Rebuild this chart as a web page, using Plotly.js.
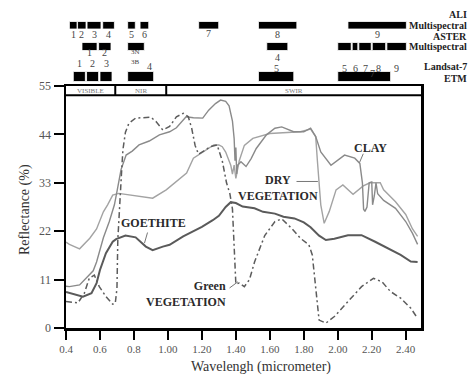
<!DOCTYPE html>
<html><head><meta charset="utf-8">
<script src="https://cdn.plot.ly/plotly-3.0.1.min.js"></script>
<style>html,body{margin:0;padding:0;background:#fff}#c{width:474px;height:376px}</style>
</head><body><div id="c"></div>
<script>
// ---- spectra (wavelength in micrometer, reflectance in %) ----
const greenW = [0.40,0.43,0.47,0.508,0.537,0.567,0.596,0.636,0.675,0.69,0.70,0.705,0.715,0.725,0.735,0.75,0.77,0.81,0.90,0.93,0.97,1.01,1.05,1.09,1.12,1.14,1.16,1.18,1.21,1.25,1.29,1.32,1.345,1.365,1.38,1.39,1.40,1.42,1.45,1.48,1.51,1.57,1.63,1.67,1.73,1.78,1.83,1.85,1.87,1.89,1.93,1.98,2.06,2.14,2.21,2.26,2.31,2.37,2.43,2.47];
const greenR = [6.0,5.8,5.7,7.9,11.3,12.0,9.4,7.1,5.4,5.6,9,20,28,34,40.5,44.5,46.5,47.7,47.9,46.9,45.0,45.8,48.0,48.8,48.0,45.4,41.5,39.5,40.2,41.2,41.6,38.0,33.0,30.5,27.0,18.0,10.0,10.2,9.4,11.0,15.0,21.0,24.2,24.8,22.6,20.4,18.9,16.6,9.0,1.8,1.1,2.6,6.0,9.4,11.3,10.5,8.3,6.8,4.5,2.2];

const clayW = [0.40,0.42,0.48,0.53,0.56,0.58,0.60,0.62,0.655,0.685,0.70,0.724,0.754,0.79,0.83,0.89,0.95,1.01,1.05,1.107,1.15,1.205,1.24,1.28,1.31,1.34,1.36,1.38,1.39,1.395,1.40,1.405,1.41,1.43,1.46,1.49,1.52,1.58,1.63,1.67,1.74,1.80,1.84,1.87,1.90,1.96,2.04,2.10,2.13,2.145,2.152,2.16,2.172,2.185,2.20,2.205,2.215,2.225,2.235,2.27,2.34,2.40,2.44,2.47];
const clayR = [9.5,9.4,9.8,11.7,13.0,15.0,18.0,20.5,24.2,28.0,31.0,36.0,39.3,40.2,41.6,42.5,43.9,44.6,45.5,48.0,47.8,47.7,49.5,51.0,51.8,51.5,50.5,47.0,43.0,38.0,41.0,35.0,37.0,37.8,36.7,38.5,40.8,43.9,45.4,45.7,44.6,44.6,45.4,43.5,40.0,37.0,39.3,38.6,37.4,33.0,27.0,26.5,27.5,33.0,33.2,28.0,30.0,33.0,30.5,29.0,27.2,24.2,21.5,19.0];

const dryW = [0.40,0.42,0.48,0.54,0.58,0.62,0.645,0.675,0.71,0.79,0.91,0.99,1.05,1.11,1.15,1.205,1.24,1.27,1.30,1.32,1.34,1.37,1.38,1.39,1.40,1.41,1.42,1.45,1.50,1.60,1.70,1.78,1.84,1.87,1.88,1.90,1.92,1.95,1.99,2.03,2.09,2.15,2.19,2.25,2.27,2.34,2.40,2.44,2.47];
const dryR = [19.5,19.0,18.0,20.4,22.5,26.4,28.0,30.2,30.6,30.2,29.5,31.4,33.3,35.2,38.6,40.0,40.8,41.6,41.6,41.2,40.0,37.0,35.0,37.0,34.0,36.5,38.0,41.5,43.1,44.2,44.5,44.6,45.2,43.5,38.0,28.0,23.8,26.5,31.4,32.5,30.4,32.3,33.0,33.0,31.4,28.7,25.8,22.5,20.8];

const goeW = [0.40,0.43,0.50,0.55,0.58,0.60,0.635,0.675,0.695,0.75,0.81,0.87,0.91,0.97,1.01,1.09,1.146,1.20,1.264,1.30,1.34,1.37,1.40,1.44,1.51,1.56,1.63,1.68,1.745,1.80,1.84,1.89,1.93,1.98,2.06,2.14,2.22,2.30,2.37,2.43,2.47];
const goeR = [8.2,7.9,7.1,7.9,10.2,13.2,17.0,19.6,20.2,21.0,20.6,18.5,17.7,18.5,18.9,20.8,21.9,23.0,24.5,25.5,27.5,28.6,28.4,27.6,27.2,26.4,26.0,25.3,24.9,24.0,22.9,21.0,20.0,20.3,21.1,21.1,19.6,18.1,16.6,15.1,15.0];

// ---- sensor bands (micrometer) ----
const aliStart = [0.42,0.468,0.524,0.616,0.763,0.836,1.181,1.533,2.06];
const aliEnd   = [0.465,0.518,0.606,0.685,0.808,0.887,1.299,1.759,2.404];
const aliLabels = ['1','2','3','4','5','6','7','8','9'];
const asterStart = [0.494,0.592,0.763,1.582,2.00,2.085,2.124,2.203,2.289];
const asterEnd   = [0.583,0.665,0.861,1.706,2.079,2.118,2.197,2.282,2.404];
const asterLabels = ['1','2','3N','4','5','6','7','8','9'];
const etmStart = [0.443,0.521,0.60,0.763,1.533,2.00];
const etmEnd   = [0.514,0.592,0.671,0.916,1.741,2.311];
const etmLabels = ['1','2','3','4','5','7'];

// spectral regions
const regionNames = ['VISIBLE','NIR','SWIR'];
const regionStart = [0.4,0.69,0.99];
const regionEnd = [0.69,0.99,2.49];

// axis ticks
const xTickVals = [0.4,0.6,0.8,1.0,1.2,1.4,1.6,1.8,2.0,2.2,2.4];
const xTickText = ['0.4','0.6','0.8','1.00','1.20','1.40','1.60','1.80','2.00','2.20','2.40'];
const yTickVals = [0,11,22,33,44,55];

// ---- layout helpers (pixel geometry) ----
const PT = 86, PB = 328, PH = PB - PT;
const py = p => (PB - p) / PH;           // pixel row -> paper y
const serif = 'Liberation Serif, Times New Roman, serif';

const traces = [
  {x: dryW, y: dryR, mode:'lines', line:{color:'#a3a3a3', width:1.4}, name:'Dry vegetation'},
  {x: clayW, y: clayR, mode:'lines', line:{color:'#8a8a8a', width:1.4}, name:'Clay'},
  {x: goeW, y: goeR, mode:'lines', line:{color:'#5a5a5a', width:2}, name:'Goethite'},
  {x: greenW, y: greenR, mode:'lines', line:{color:'#5c5c5c', width:1.5, dash:'6px,3px,2px,3px'}, name:'Green vegetation'}
];

const shapes = [];
const annotations = [];

function bandRow(starts, ends, p0, p1) {
  for (let i = 0; i < starts.length; i++) {
    shapes.push({type:'rect', xref:'x', yref:'paper', x0:starts[i], x1:ends[i], y0:py(p1), y1:py(p0),
      fillcolor:'#000', line:{color:'#fff', width:0.8}, layer:'above'});
  }
}
bandRow(aliStart, aliEnd, 21.5, 29);
bandRow(asterStart, asterEnd, 42.5, 50.5);
bandRow(etmStart, etmEnd, 71.5, 81.5);

const numFont = {family: serif, size: 10, color:'#444'};
aliLabels.forEach((t,i) => {
  annotations.push({text:t, xref:'x', yref:'paper', x:(aliStart[i]+aliEnd[i])/2, y:py(i===6?33.5:35),
    showarrow:false, font:numFont, xanchor:'center', yanchor:'middle'});
});
const asterPy = [53,53,52.5,57,69,69,69,69,69];
asterLabels.forEach((t,i) => {
  annotations.push({text:t, xref:'x', yref:'paper', x:(asterStart[i]+asterEnd[i])/2, y:py(asterPy[i]),
    showarrow:false, font: t==='3N' ? {family:serif,size:7,color:'#444'} : numFont, xanchor:'center', yanchor:'middle'});
});
annotations.push({text:'3B', xref:'x', yref:'paper', x:(asterStart[2]+asterEnd[2])/2, y:py(62.3),
  showarrow:false, font:{family:serif,size:7,color:'#444'}, xanchor:'center', yanchor:'middle'});
const etmPy = [63,63,63,66.7,68.3,74];
const etmShift = [0,0,0,9,0,8];
etmLabels.forEach((t,i) => {
  annotations.push({text:t, xref:'x', yref:'paper', x:(etmStart[i]+etmEnd[i])/2, y:py(etmPy[i]), xshift:etmShift[i],
    showarrow:false, font:numFont, xanchor:'center', yanchor:'middle'});
});

// sensor names on the right
const sensorText = [['ALI',14],['Multispectral',25],['ASTER',37],['Multispectral',46.5],['Landsat-7',66],['ETM',78]];
sensorText.forEach(([t,p]) => annotations.push({text:'<b>'+t+'</b>', xref:'paper', yref:'paper', x:(469-66)/355, y:py(p),
  xanchor:'right', yanchor:'middle', showarrow:false, font:{family:serif, size:10, color:'#222'}}));

// region box at top of plot
shapes.push({type:'line', xref:'paper', yref:'y', x0:0, x1:1, y0:52.9, y1:52.9, line:{color:'#000', width:2}});
regionStart.slice(1).forEach(x => shapes.push({type:'line', xref:'x', yref:'y', x0:x, x1:x, y0:52.9, y1:55, line:{color:'#000', width:2}}));
regionNames.forEach((t,i) => annotations.push({text:t, xref:'x', yref:'y', x:(regionStart[i]+regionEnd[i])/2, y:53.95,
  showarrow:false, font:{family:serif, size:7, color:'#777'}, xanchor:'center', yanchor:'middle'}));

// curve labels
const labFont = {family: serif, size: 12, color:'#2a2a2a'};
annotations.push({text:'<b>GOETHITE</b>', xref:'x', yref:'y', x:0.914, y:23.9, showarrow:false, font:labFont});
shapes.push({type:'line', xref:'x', yref:'y', x0:0.88, y0:21.7, x1:0.862, y1:19.3, line:{color:'#777', width:1}});
annotations.push({text:'<b>Green</b><br><b>VEGETATION</b>', xref:'x', yref:'y', x:1.352, y:7.7, xanchor:'right', align:'right', showarrow:false, font:labFont});
shapes.push({type:'line', xref:'x', yref:'y', x0:1.363, y0:9.1, x1:1.412, y1:10.5, line:{color:'#777', width:1}});
annotations.push({text:'<b>DRY</b><br><b>VEGETATION</b>', xref:'x', yref:'y', x:1.646, y:31.8, showarrow:false, font:labFont});
shapes.push({type:'line', xref:'x', yref:'y', x0:1.757, y0:33.3, x1:1.883, y1:33.3, line:{color:'#777', width:1}});
annotations.push({text:'<b>CLAY</b>', xref:'x', yref:'y', x:2.19, y:40.9, showarrow:false, font:labFont});
shapes.push({type:'line', xref:'x', yref:'y', x0:2.15, y0:39.6, x1:2.128, y1:37.6, line:{color:'#777', width:1}});

// axis titles
annotations.push({text:'Reflectance (%)', xref:'paper', yref:'paper', x:(25-66)/355, y:py(210), textangle:-90,
  showarrow:false, font:{family:serif, size:14, color:'#333'}, xanchor:'center', yanchor:'middle'});
annotations.push({text:'Wavelengh (micrometer)', xref:'paper', yref:'paper', x:(261-66)/355, y:py(367),
  showarrow:false, font:{family:serif, size:14, color:'#333'}, xanchor:'center', yanchor:'middle'});

const layout = {
  width:474, height:376, margin:{l:66, r:53, t:86, b:48},
  paper_bgcolor:'#fff', plot_bgcolor:'#fff', showlegend:false,
  xaxis:{range:[0.4,2.49], tickvals:xTickVals, ticktext:xTickText, ticks:'outside', ticklen:9, tickwidth:2, tickcolor:'#000',
    showline:true, linewidth:2.5, linecolor:'#000', mirror:true, showgrid:false, zeroline:false,
    tickfont:{family:serif, size:11, color:'#555'}},
  yaxis:{range:[0,55], tickvals:yTickVals, ticks:'outside', ticklen:10, tickwidth:2, tickcolor:'#000',
    showline:true, linewidth:2.5, linecolor:'#000', mirror:true, showgrid:false, zeroline:false,
    tickfont:{family:serif, size:12, color:'#555'}},
  shapes, annotations
};
Plotly.newPlot('c', traces, layout, {displayModeBar:false, staticPlot:true});
</script></body></html>
